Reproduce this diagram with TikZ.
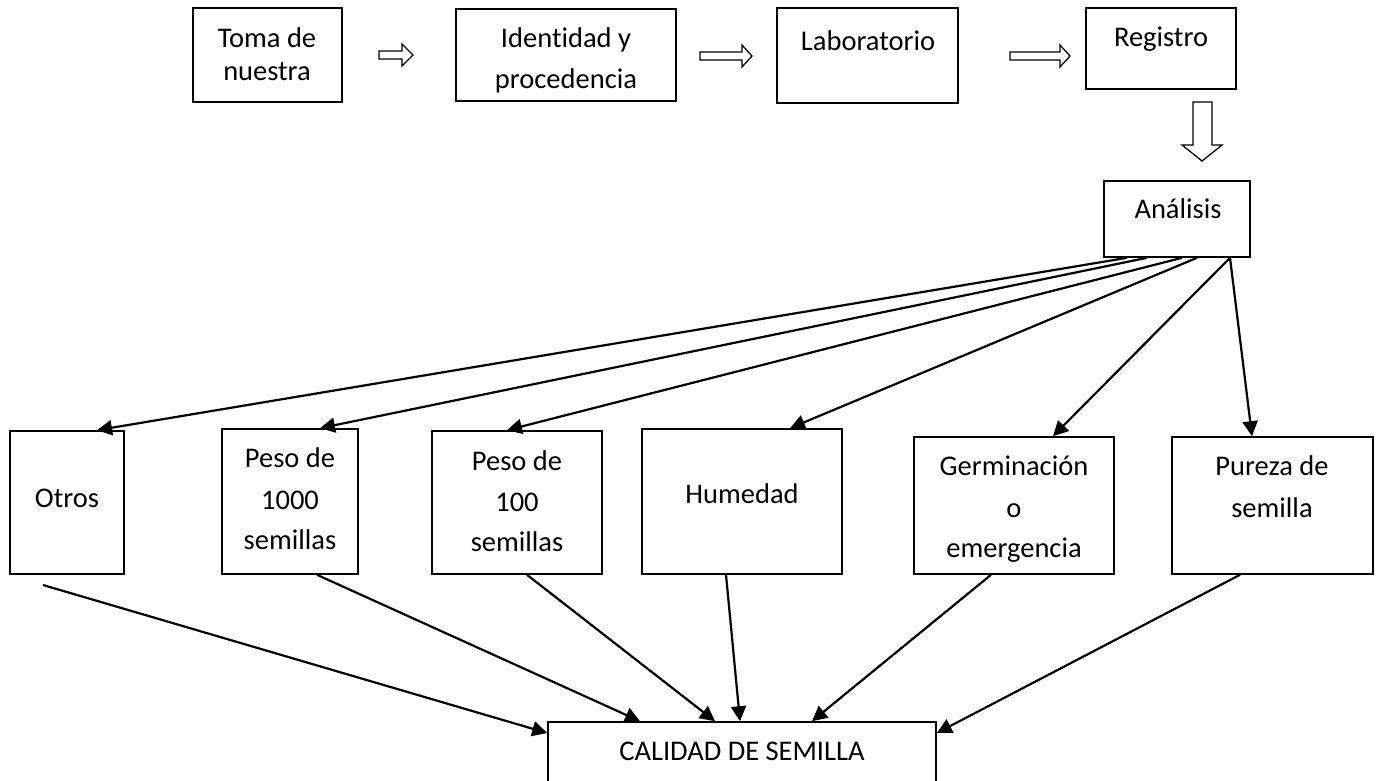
\documentclass[tikz,border=0pt]{standalone}
\usepackage{fontspec}
\setmainfont{Carlito}[RawFeature={-liga;-clig;-dlig;-calt}]
\usetikzlibrary{arrows.meta}
\tikzset{
  box/.style={draw, line width=1.6pt, rectangle, inner sep=0pt},
  txt/.style={anchor=base, inner sep=0pt, font=\fontsize{28.5}{34}\selectfont},
  conn/.style={line width=2.2pt, -{Triangle[length=15pt,width=15pt]}},
  blk/.style={draw, line width=1.3pt, fill=white, line join=miter},
}
\begin{document}
\begin{tikzpicture}[x=1pt,y=-1pt]
\useasboundingbox (0,0) rectangle (1378,780);

% top row boxes
\node[box, minimum width=149, minimum height=94] (toma) at (267.5,55) {};
\node[box, minimum width=220, minimum height=92] (ident) at (566,55) {};
\node[box, minimum width=181, minimum height=95] (lab) at (867.5,55.5) {};
\node[box, minimum width=150, minimum height=81] (reg) at (1161,48.5) {};
\node[box, minimum width=146, minimum height=76] (anal) at (1177,219) {};

\node[txt] (toma1) at (267,47) {Toma de};
\node[txt] (toma2) at (267,80) {nuestra};
\node[txt] (ident1) at (566,47) {Identidad y};
\begin{scope}
  \clip (456,9) rectangle (676,92);
  \node[txt] (ident2) at (566,88) {procedencia};
\end{scope}
\node[txt] (labt) at (868,50) {Laboratorio};
\node[txt] (regt) at (1161,46) {Registro};
\node[txt] (analt) at (1178,218) {Análisis};

% block arrows
\draw[blk] (379,51) -- (402,51) -- (402,44) -- (413,55) -- (402,66) -- (402,59) -- (379,59) -- cycle;
\draw[blk] (700,52) -- (742,52) -- (742,45) -- (752,56) -- (742,67) -- (742,60) -- (700,60) -- cycle;
\draw[blk] (1010,52) -- (1060,52) -- (1060,45) -- (1070,56) -- (1060,67) -- (1060,60) -- (1010,60) -- cycle;
\draw[blk] (1193,102) -- (1193,145) -- (1182,145) -- (1202,161) -- (1222,145) -- (1212,145) -- (1212,102) -- cycle;

% middle row
\node[box, minimum width=114, minimum height=143] (otros) at (67,502.5) {};
\node[box, minimum width=136, minimum height=145] (p1000) at (290,501.5) {};
\node[box, minimum width=170, minimum height=143] (p100) at (517,502.5) {};
\node[box, minimum width=200, minimum height=145] (hum) at (742,501.5) {};
\node[box, minimum width=200, minimum height=137] (germ) at (1014,505.5) {};
\node[box, minimum width=201, minimum height=137] (pur) at (1272.5,505.5) {};

\node[txt] (otrost) at (67,507) {Otros};
\node[txt] (p1000a) at (290,467) {Peso de};
\node[txt] (p1000b) at (290,509) {1000};
\node[txt] (p1000c) at (290,549) {semillas};
\node[txt] (p100a) at (517,470) {Peso de};
\node[txt] (p100b) at (517,511) {100};
\node[txt] (p100c) at (517,551) {semillas};
\node[txt] (humt) at (742,503) {Humedad};
\node[txt] (germa) at (1014,475) {Germinación};
\node[txt] (germb) at (1014,517) {o};
\node[txt] (germc) at (1014,557) {emergencia};
\node[txt] (pura) at (1272,475) {Pureza de};
\node[txt] (purb) at (1272,517) {semilla};

% bottom box
\node[box, minimum width=388, minimum height=100] (cal) at (742,772) {};
\node[txt] (calt) at (742,760) {CALIDAD DE SEMILLA};

% connectors from analysis
\draw[conn] (anal.south -| 1127,0) -- (otros.north -| 97,0);
\draw[conn] (anal.south -| 1147,0) -- (p1000.north -| 320,0);
\draw[conn] (anal.south -| 1182,0) -- (p100.north -| 507,0);
\draw[conn] (anal.south -| 1197,0) -- (hum.north -| 790,0);
\draw[conn] (anal.south -| 1230,0) -- (germ.north -| 1053,0);
\draw[conn] (anal.south -| 1230,0) -- (pur.north -| 1252,0);

% connectors to quality
\coordinate (otrosout) at (43,585);
\draw[conn] (otrosout) -- (cal.west |- 0,733);
\draw[conn] (p1000.south -| 317,0) -- (cal.north -| 640,0);
\draw[conn] (p100.south -| 527,0) -- (cal.north -| 715,0);
\draw[conn] (hum.south -| 726,0) -- (cal.north -| 740,0);
\draw[conn] (germ.south -| 991,0) -- (cal.north -| 812,0);
\draw[conn] (pur.south -| 1240,0) -- (cal.east |- 0,733);
\end{tikzpicture}
\end{document}
